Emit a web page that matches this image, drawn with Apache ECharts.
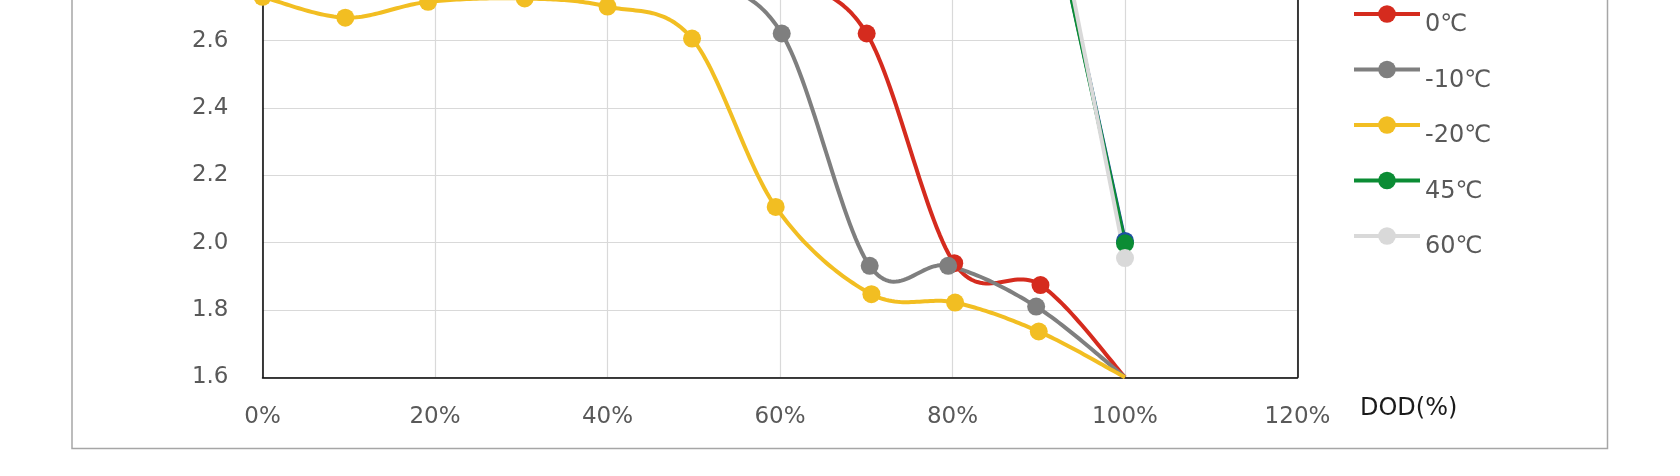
<!DOCTYPE html>
<html>
<head>
<meta charset="utf-8">
<script src="https://cdn.jsdelivr.net/npm/echarts@6/dist/echarts.min.js"></script>
<style>
html,body{margin:0;padding:0;background:#fff;overflow:hidden;width:1680px;height:476px;}
#c{position:absolute;left:0;top:-320px;width:1680px;height:796px;}
</style>
</head>
<body>
<div id="c"></div>
<script>
// ---- data (x = DOD %, y = voltage) ----
var seriesNames = ['25℃', '0℃', '-10℃', '-20℃', '45℃', '60℃'];
var xTicks = [0, 20, 40, 60, 80, 100, 120];
var yTicks = [1.6, 1.8, 2.0, 2.2, 2.4, 2.6, 2.8, 3.0, 3.2, 3.4];

var x25 = [0, 10, 20, 30, 40, 50, 60, 70, 80, 90, 100];
var y25 = [3.28, 3.25, 3.24, 3.23, 3.22, 3.21, 3.20, 3.19, 3.18, 3.17, 2.005];

var x0 = [0, 10, 20, 30, 40, 50, 60, 70.05, 80.2, 90.2, 100];
var y0 = [2.95, 2.90, 2.88, 2.86, 2.85, 2.83, 2.78, 2.621, 1.939, 1.874, 1.6];

var xm10 = [0, 10, 20, 30, 40, 50, 60.2, 70.4, 79.5, 89.7, 100];
var ym10 = [2.92, 2.87, 2.85, 2.83, 2.81, 2.78, 2.621, 1.931, 1.931, 1.81, 1.6];

var xm20 = [0, 9.6, 19.2, 30.4, 40.0, 49.8, 59.5, 70.6, 80.3, 90.0, 100];
var ym20 = [2.73, 2.668, 2.715, 2.725, 2.701, 2.606, 2.106, 1.847, 1.822, 1.736, 1.6];

var x45 = [0, 10, 20, 30, 40, 50, 60, 70, 80, 90, 100];
var y45 = [3.30, 3.27, 3.26, 3.25, 3.24, 3.23, 3.22, 3.20, 3.19, 3.17, 1.998];

var x60 = [0, 10, 20, 30, 40, 50, 60, 70, 80, 90, 100];
var y60 = [3.36, 3.33, 3.32, 3.31, 3.30, 3.29, 3.28, 3.27, 3.26, 3.25, 1.954];

// whether the final (100%) point shows a marker
var lastMarker = [true, false, false, false, true, true];

var colors = ['#1F4FA3', '#D52B1E', '#7F7F7F', '#F2BE22', '#0B8C34', '#D9D9D9'];
var smoothFlags = [false, true, true, true, false, false];

function pairs(xs, ys) { return xs.map(function (x, i) { return [x, ys[i]]; }); }
var allX = [x25, x0, xm10, xm20, x45, x60];
var allY = [y25, y0, ym10, ym20, y45, y60];

var OFF = 320;
var FONT = 'DejaVu Sans';
var LW = 4;
var chart = echarts.init(document.getElementById('c'), null, {renderer: 'canvas'});

// spline (Catmull-Rom style, like spreadsheet smoothing) in pixel space
function splinePoints(px, smooth) {
  if (!smooth) return px;
  var out = [px[0]];
  var n = px.length;
  for (var i = 0; i < n - 1; i++) {
    var p0 = px[Math.max(i - 1, 0)], p1 = px[i], p2 = px[i + 1], p3 = px[Math.min(i + 2, n - 1)];
    var c1 = [p1[0] + (p2[0] - p0[0]) / 6, p1[1] + (p2[1] - p0[1]) / 6];
    var c2 = [p2[0] - (p3[0] - p1[0]) / 6, p2[1] - (p3[1] - p1[1]) / 6];
    var steps = 30;
    for (var s = 1; s <= steps; s++) {
      var t = s / steps, u = 1 - t;
      out.push([
        u * u * u * p1[0] + 3 * u * u * t * c1[0] + 3 * u * t * t * c2[0] + t * t * t * p2[0],
        u * u * u * p1[1] + 3 * u * u * t * c1[1] + 3 * u * t * t * c2[1] + t * t * t * p2[1]
      ]);
    }
  }
  return out;
}

var series = [];
seriesNames.forEach(function (n, i) {
  var data = pairs(allX[i], allY[i]);
  var markerData = data.map(function (d, k) {
    if (k === data.length - 1 && !lastMarker[i]) return {value: d, symbol: 'none'};
    return {value: d};
  });
  series.push({
    name: 'curve ' + n,
    type: 'custom',
    data: data,
    silent: true,
    animation: false,
    renderItem: function (params, api) {
      if (params.dataIndex !== 0) return null;
      var px = data.map(function (d) { return api.coord(d); });
      return {
        type: 'polyline',
        shape: {points: splinePoints(px, smoothFlags[i])},
        style: {stroke: colors[i], lineWidth: LW, fill: null, lineJoin: 'round', lineCap: 'butt'}
      };
    }
  });
  series.push({
    name: n,
    type: 'line',
    data: markerData,
    symbol: 'circle',
    symbolSize: 18,
    showSymbol: true,
    lineStyle: {color: colors[i], width: LW, opacity: 0},
    itemStyle: {color: colors[i], borderWidth: 0},
    emphasis: {disabled: true},
    animation: false
  });
});

var axisLineStyle = {color: '#000', width: 1.5};

chart.setOption({
  backgroundColor: '#fff',
  animation: false,
  textStyle: {fontFamily: FONT},
  grid: {
    left: 262.5, right: 382.5, top: 91.2, bottom: 98.7,
    show: false
  },
  xAxis: [{
    type: 'value', min: xTicks[0], max: xTicks[xTicks.length - 1], interval: 20,
    axisLine: {show: true, onZero: false, lineStyle: axisLineStyle},
    axisTick: {show: false},
    splitLine: {show: true, lineStyle: {color: '#D9D9D9', width: 1.2}},
    axisLabel: {formatter: '{value}%', color: '#595959', fontSize: 23, fontFamily: FONT, margin: 28}
  }, {
    type: 'value', position: 'top', min: xTicks[0], max: xTicks[xTicks.length - 1], interval: 20,
    axisLine: {show: true, onZero: false, lineStyle: axisLineStyle},
    axisTick: {show: false}, axisLabel: {show: false}, splitLine: {show: false}
  }],
  yAxis: [{
    type: 'value', min: yTicks[0], max: yTicks[yTicks.length - 1], interval: 0.2,
    axisLine: {show: true, onZero: false, lineStyle: axisLineStyle},
    axisTick: {show: false},
    splitLine: {show: true, lineStyle: {color: '#D9D9D9', width: 1.2}},
    axisLabel: {formatter: function (v) { return v.toFixed(1); }, color: '#595959', fontSize: 23, fontFamily: FONT, margin: 34}
  }, {
    type: 'value', position: 'right', min: yTicks[0], max: yTicks[yTicks.length - 1], interval: 0.2,
    axisLine: {show: true, onZero: false, lineStyle: axisLineStyle},
    axisTick: {show: false}, axisLabel: {show: false}, splitLine: {show: false}
  }],
  legend: {
    orient: 'vertical', left: 1347, top: 251,
    itemWidth: 66, itemHeight: 22, itemGap: 10,
    data: seriesNames,
    selectedMode: false,
    lineStyle: {width: LW, opacity: 1},
    formatter: function (name) { return '{s| }\n{t|' + name + '}'; },
    textStyle: {
      color: '#595959', fontFamily: FONT,
      rich: {
        s: {fontSize: 10, lineHeight: 22, height: 22},
        t: {fontSize: 24, lineHeight: 23, color: '#595959', fontFamily: FONT}
      }
    }
  },
  graphic: [
    {type: 'rect', z: -1, silent: true,
     shape: {x: 72, y: 20, width: 1535.5, height: 448.5 + OFF - 20},
     style: {fill: 'none', stroke: '#A6A6A6', lineWidth: 1.5}},
    {type: 'text', silent: true, left: 1360, top: 397 + OFF,
     style: {text: 'DOD(%)', fill: '#1A1A1A', font: '24px ' + FONT}}
  ],
  series: series
});
</script>
</body>
</html>
